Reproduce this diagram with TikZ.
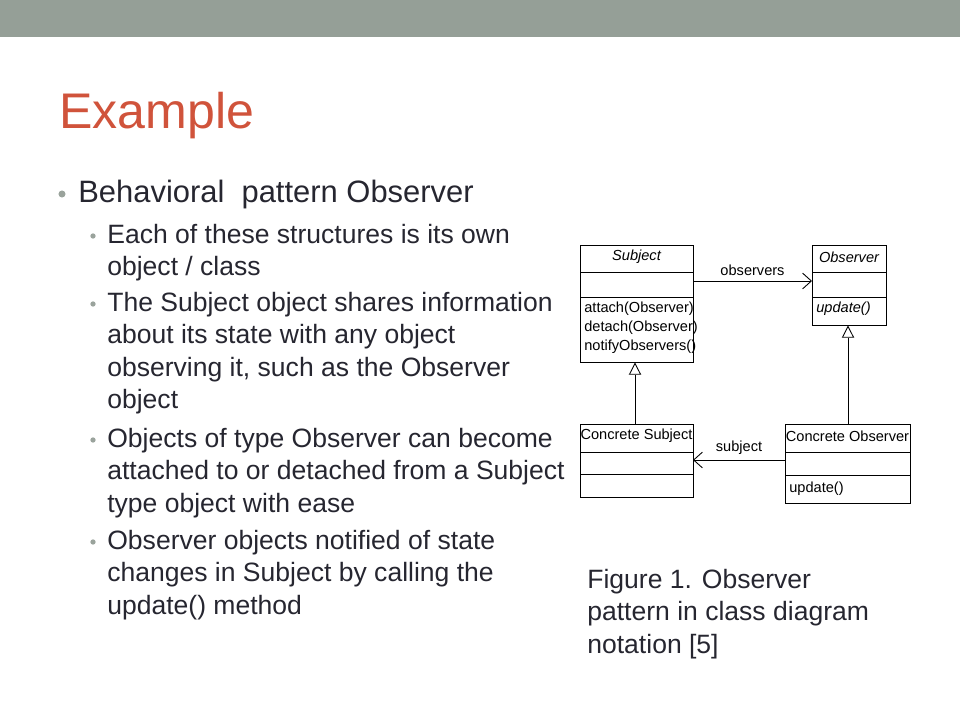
\documentclass[tikz,border=0pt]{standalone}
\usepackage{fontspec}
\setmainfont{Liberation Sans}
\usetikzlibrary{arrows.meta, fit}
\definecolor{barcol}{HTML}{959F97}
\definecolor{titlecol}{HTML}{D0533B}
\definecolor{textcol}{HTML}{262630}
\definecolor{bulcol}{HTML}{9AA39C}
\tikzset{
  lvlone/.style={anchor=base west, align=left, text=textcol, inner sep=0pt,
    font=\fontsize{17.6}{18}\selectfont},
  lvltwo/.style={anchor=base west, align=left, text=textcol, inner sep=0pt,
    font=\fontsize{15.1}{18.4}\selectfont},
  bul/.style={circle, fill=bulcol, inner sep=0pt, minimum size=#1},
  classbox/.style={draw, line width=0.5pt, inner sep=0pt},
  uml/.style={inner sep=0pt, font=\fontsize{8.3}{10.8}\selectfont},
  gen/.style={-{Triangle[open, length=7pt, width=7pt]}, line width=0.5pt},
  assoc/.style={-{Straight Barb[length=5pt, width=9pt]}, line width=0.5pt}
}
\begin{document}
\begin{tikzpicture}[x=0.02cm, y=-0.02cm]
\useasboundingbox (0,0) rectangle (960,720);
\fill [barcol] (0,0) rectangle (960,37);
% title
\node [anchor=base west, inner sep=0pt, text=titlecol,
  font=\fontsize{28.5}{30}\selectfont] (title) at (59,128) {Example};
% bullets (anchored at the last baseline)
\node [bul=4pt] at (62,194) {};
\node [lvlone] (lone) at (78,202) {Behavioral\ \ pattern Observer};
\foreach \y in {236, 304, 440, 542}
  \node [bul=3pt] at (93,\y) {};
\node [lvltwo] (ptone) at (107,275.5) {Each of these structures is its own\\object / class};
\node [lvltwo] (pttwo) at (107,408.5) {The Subject object shares information\\about its state with any object\\observing it, such as the Observer\\object};
\node [lvltwo] (ptthree) at (107,512) {Objects of type Observer can become\\attached to or detached from a Subject\\type object with ease};
\node [lvltwo] (ptfour) at (107,614) {Observer objects notified of state\\changes in Subject by calling the\\update() method};
% caption
\node [lvltwo] (caption) at (587,653) {Figure 1. Observer\\pattern in class diagram\\notation [5]};
% class boxes
\node [classbox, fit={(580,245) (693,362)}] (subj) {};
\draw (580,272) -- (693,272) (580,297) -- (693,297);
\node [uml, font=\fontsize{8.3}{10}\itshape] at (636.5,257) {Subject};
\node [uml, anchor=north west, align=left] at (584,302) {attach(Observer)\\detach(Observer)\\notifyObservers()};
\node [classbox, fit={(812,245) (886,325)}] (obs) {};
\draw (812,272) -- (886,272) (812,297) -- (886,297);
\node [uml, font=\fontsize{8.3}{10}\itshape] at (849,257) {Observer};
\node [uml, font=\fontsize{8.3}{10}\itshape, anchor=west] at (816,309) {update()};
\node [classbox, fit={(580,424) (693,497)}] (csubj) {};
\draw (580,452) -- (693,452) (580,474) -- (693,474);
\node [uml] at (636.5,436) {Concrete Subject};
\node [classbox, fit={(785,424) (910,503)}] (cobs) {};
\draw (785,452) -- (910,452) (785,475) -- (910,475);
\node [uml] at (847.5,436) {Concrete Observer};
\node [uml, anchor=west] at (789,489) {update()};
% connectors
\coordinate (a1) at (693,281);
\coordinate (a2) at (812,281);
\draw [assoc] (a1) -- node [uml, above=3pt] {observers} (a2);
\coordinate (b1) at (785,460);
\coordinate (b2) at (693,460);
\draw [assoc] (b1) -- node [uml, above=3pt] {subject} (b2);
\draw [gen] (csubj.north -| 635,0) -- (subj.south -| 635,0);
\draw [gen] (cobs.north -| 848,0) -- (obs.south -| 848,0);
\end{tikzpicture}
\end{document}
